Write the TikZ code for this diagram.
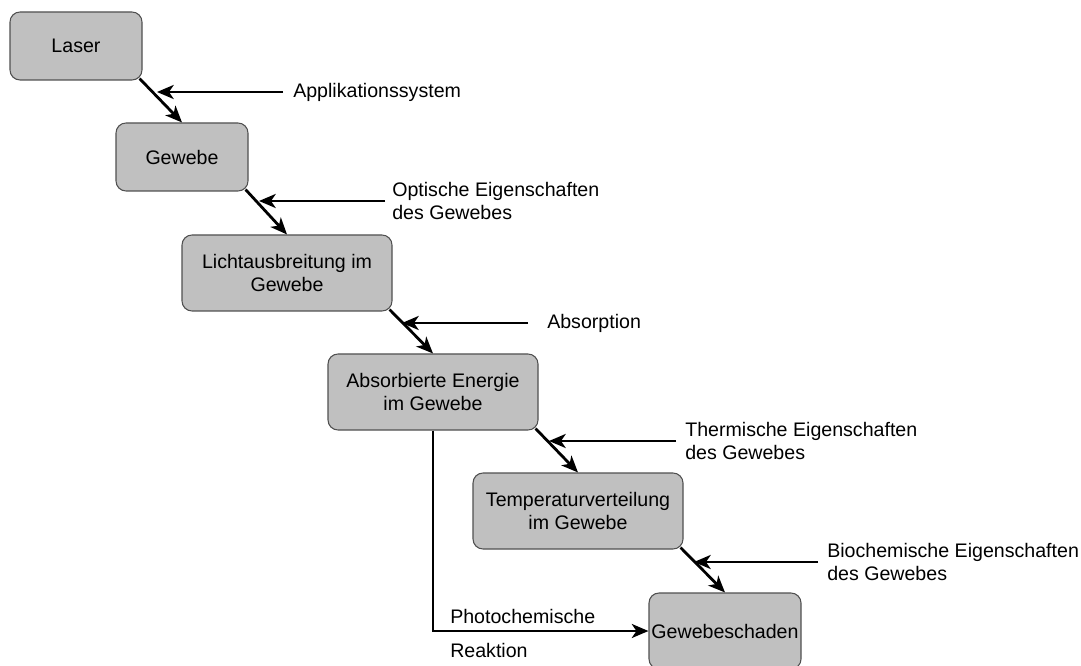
\documentclass[tikz,border=0pt]{standalone}
\usepackage{fontspec}
\setmainfont{Liberation Sans}
\usetikzlibrary{arrows.meta,calc}
\definecolor{boxfill}{HTML}{C0C0C0}
\definecolor{boxline}{HTML}{505050}
\begin{document}
\begin{tikzpicture}[x=0.75pt,y=-0.75pt,
  every node/.style={font=\fontsize{14.7}{17.2}\selectfont},
  box/.style={draw=boxline, line width=0.8pt, fill=boxfill, rounded corners=7.5pt, align=center, inner sep=0pt},
  smallbox/.style={box, minimum width=99pt, minimum height=51pt},
  widebox/.style={box, minimum width=157.5pt, minimum height=57pt},
  lbl/.style={anchor=west, align=left, inner xsep=7.5pt, inner ysep=0pt},
  txt/.style={anchor=west, inner sep=0pt},
  conn/.style={line width=2.1pt, -{Stealth[length=12.5pt, width=10.5pt, inset=3.5pt]}}
]
\useasboundingbox (0,0) rectangle (1081,666);

\node[smallbox] (laser) at (76,46) {Laser};
\node[smallbox] (gewebe) at (182,157) {Gewebe};
\node[widebox] (licht) at (287,273) {Lichtausbreitung im\\Gewebe};
\node[widebox] (absorb) at (433,392) {Absorbierte Energie\\im Gewebe};
\node[widebox] (temp) at (578,511) {Temperaturverteilung\\im Gewebe};
\node[box, minimum width=114pt, minimum height=57pt] (schaden) at (725,631) {Gewebeschaden};

\node[lbl] (l1) at (283,92) {Applikationssystem};
\node[lbl, inner xsep=5.25pt] (l2) at (385,201) {Optische Eigenschaften\\des Gewebes};
\node[lbl, inner xsep=14.25pt] (l3) at (528,323) {Absorption};
\node[lbl, inner xsep=6.75pt] (l4) at (676,441) {Thermische Eigenschaften\\des Gewebes};
\node[lbl, inner xsep=6.75pt] (l5) at (818,562) {Biochemische Eigenschaften\\des Gewebes};

\node[txt] (p1) at (450,616) {Photochemische};
\node[txt] (p2) at (450,650) {Reaktion};

\coordinate (t1) at (157,92);
\coordinate (t2) at (259,201);
\coordinate (t3) at (402,323);
\coordinate (t4) at (549,441);
\coordinate (t5) at (694,562);

\draw[conn] ($(laser.south east)+(-3,-2)$) -- (gewebe.north);
\draw[conn] ($(gewebe.south east)+(-3,-2)$) -- (licht.north);
\draw[conn] ($(licht.south east)+(-3,-2)$) -- (absorb.north);
\draw[conn] ($(absorb.south east)+(-3,-2)$) -- (temp.north);
\draw[conn] ($(temp.south east)+(-3,-2)$) -- (schaden.north);

\draw[conn] (l1.west) -- (t1);
\draw[conn] (l2.west) -- (t2);
\draw[conn] (l3.west) -- (t3);
\draw[conn] (l4.west) -- (t4);
\draw[conn] (l5.west) -- (t5);

\draw[conn] (absorb.south) |- (schaden.west);
\end{tikzpicture}
\end{document}
